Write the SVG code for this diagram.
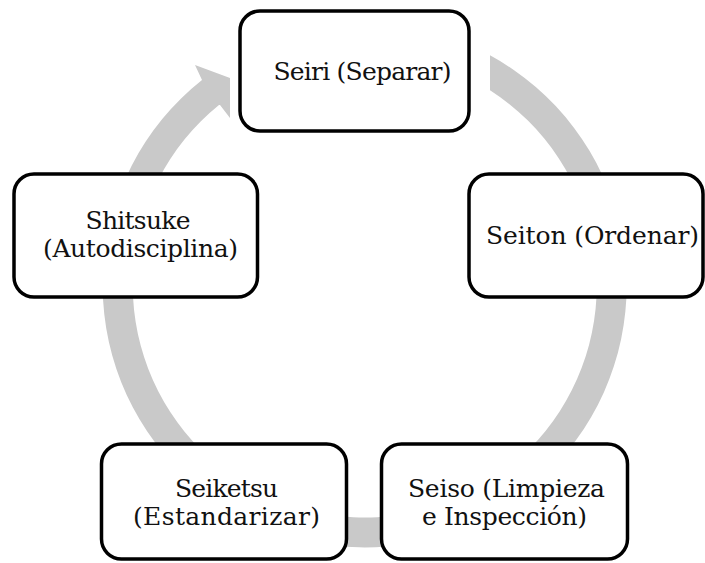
<svg xmlns="http://www.w3.org/2000/svg" width="705" height="563" viewBox="0 0 705 563">
  <style>
    .ring { fill: #c9c9c9; stroke: none; }
    .box { fill: #ffffff; stroke: #000000; stroke-width: 3.5; }
    .label { font-family: "DejaVu Serif", "Liberation Serif", serif; font-size: 25px; fill: #111111; text-anchor: middle; }
  </style>
  <rect x="0" y="0" width="705" height="563" fill="#ffffff"/>

  <!-- continuous cycle ring with arrowhead pointing into the first step -->
  <g id="connectors">
    <path class="ring" d="M 490,55.3 A 262 262 0 1 1 202,80 L 195,65 L 230,78 L 230,118 L 220,105 L 219,105 A 232 232 0 1 0 490,90.2 Z"/>
  </g>

  <g id="seiri">
    <rect class="box" x="240" y="11" width="229" height="120" rx="20" ry="20"/>
    <text class="label" x="362.5" y="80" textLength="178" lengthAdjust="spacing">Seiri (Separar)</text>
  </g>

  <g id="seiton">
    <rect class="box" x="469" y="174" width="234" height="123" rx="20" ry="20"/>
    <text class="label" x="592.5" y="244" textLength="213" lengthAdjust="spacing">Seiton (Ordenar)</text>
  </g>

  <g id="seiso">
    <rect class="box" x="381.5" y="444" width="246" height="115" rx="20" ry="20"/>
    <text class="label" x="506.5" y="497" textLength="197" lengthAdjust="spacing">Seiso (Limpieza</text>
    <text class="label" x="504.5" y="525" textLength="165" lengthAdjust="spacing">e Inspección)</text>
  </g>

  <g id="seiketsu">
    <rect class="box" x="101.5" y="444" width="245" height="115" rx="20" ry="20"/>
    <text class="label" x="226.5" y="497" textLength="103" lengthAdjust="spacing">Seiketsu</text>
    <text class="label" x="226.5" y="525" textLength="187" lengthAdjust="spacing">(Estandarizar)</text>
  </g>

  <g id="shitsuke">
    <rect class="box" x="14" y="174" width="243.5" height="123" rx="20" ry="20"/>
    <text class="label" x="138" y="229" textLength="105" lengthAdjust="spacing">Shitsuke</text>
    <text class="label" x="140.5" y="257" textLength="195" lengthAdjust="spacing">(Autodisciplina)</text>
  </g>
</svg>
